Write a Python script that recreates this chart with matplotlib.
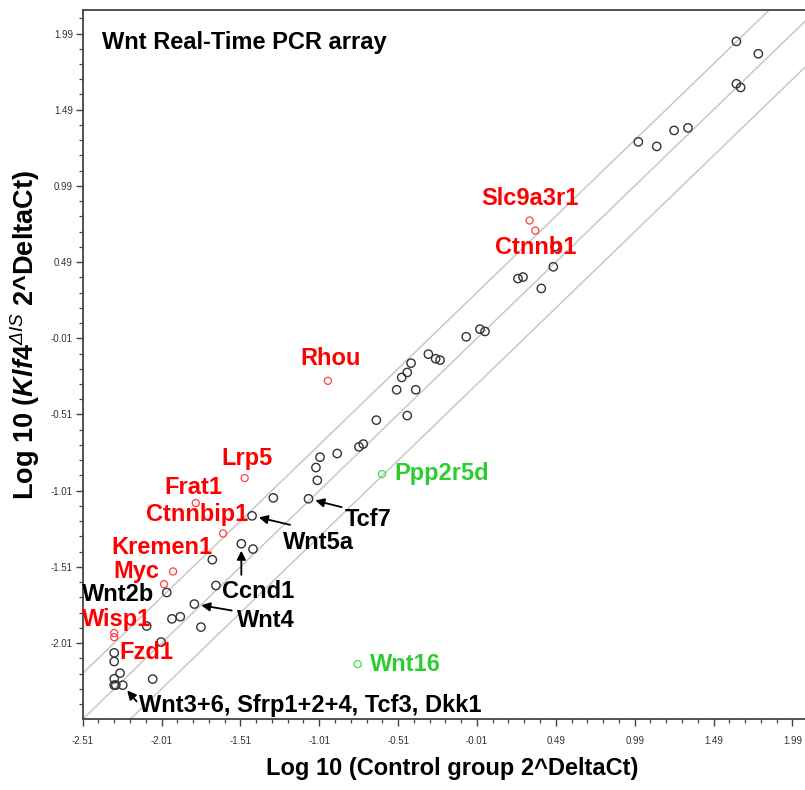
import numpy as np
import matplotlib
matplotlib.use('Agg')
import matplotlib.pyplot as plt
from matplotlib.ticker import FixedLocator

plt.rcParams['font.family'] = ['Liberation Sans', 'DejaVu Sans']
plt.rcParams['mathtext.fontset'] = 'custom'
plt.rcParams['mathtext.rm'] = 'Liberation Sans:bold'
plt.rcParams['mathtext.it'] = 'Liberation Sans:bold:italic'
plt.rcParams['mathtext.bf'] = 'Liberation Sans:bold'
plt.rcParams['mathtext.sf'] = 'Liberation Sans:italic'

# unlabelled / black genes (log10 control, log10 Klf4 mutant)
black_x = [1.635, 1.774, 1.635, 1.662, 1.013, 1.130, 1.240, 1.328,
           0.485, 0.474, 0.250, 0.282, 0.398, -0.078, 0.009, 0.041,
           -0.318, -0.272, -0.244, -0.428, -0.452, -0.487, -0.519, -0.398,
           -0.452, -0.648, -0.731, -0.758, -0.896, -1.005, -1.031, -1.022,
           -1.078, -1.301, -1.436, -1.504, -1.430, -1.688, -1.665, -1.977,
           -1.802, -1.944, -1.891, -1.760, -2.104, -2.013, -2.310, -2.310,
           -2.273, -2.310, -2.310, -2.300, -2.256, -2.066]
black_y = [1.938, 1.857, 1.660, 1.636, 1.279, 1.249, 1.354, 1.371,
           0.592, 0.459, 0.382, 0.392, 0.317, 0.000, 0.050, 0.035,
           -0.114, -0.144, -0.153, -0.173, -0.234, -0.267, -0.348, -0.348,
           -0.517, -0.547, -0.704, -0.722, -0.766, -0.790, -0.858, -0.942,
           -1.063, -1.057, -1.175, -1.358, -1.393, -1.463, -1.632, -1.678,
           -1.754, -1.851, -1.837, -1.905, -1.898, -2.003, -2.074, -2.131,
           -2.207, -2.244, -2.286, -2.286, -2.286, -2.246]

# up-regulated genes (red)
red_genes = ['Slc9a3r1', 'Ctnnb1', 'Rhou', 'Lrp5', 'Frat1', 'Ctnnbip1',
             'Kremen1', 'Myc', 'Wisp1', 'Fzd1']
red_x = [0.324, 0.360, -0.955, -1.483, -1.793, -1.620, -1.937, -1.994, -2.310, -2.310]
red_y = [0.763, 0.697, -0.289, -0.927, -1.091, -1.291, -1.540, -1.623, -1.944, -1.971]

# down-regulated genes (green)
green_genes = ['Ppp2r5d', 'Wnt16']
green_x = [-0.612, -0.766]
green_y = [-0.901, -2.148]

# black genes with a label: name, index into black arrays
black_labels = ['Tcf7', 'Wnt5a', 'Ccnd1', 'Wnt4', 'Wnt2b',
                'Wnt3+6, Sfrp1+2+4, Tcf3, Dkk1']
black_label_idx = [32, 34, 35, 40, 39, 52]

fold_lines = [np.log10(2), 0.0, -np.log10(2)]

# text positions (left, baseline) in data units
red_pos = [(0.020, 0.866), (0.104, 0.544), (-1.132, -0.184), (-1.630, -0.840),
           (-1.994, -1.030), (-2.109, -1.212), (-2.331, -1.424), (-2.316, -1.580),
           (-2.516, -1.898), (-2.280, -2.116)]
green_pos = [(-0.534, -0.943), (-0.688, -2.196)]
black_pos = [(-0.847, -1.244), (-1.242, -1.391), (-1.629, -1.711), (-1.530, -1.903),
             (-2.516, -1.732), (-2.151, -2.459)]
arrow_tail = [(-0.868, -1.118), (-1.195, -1.234), (-1.504, -1.562), (-1.565, -1.796),
              None, (-2.168, -2.393)]

red = '#ff0000'
green = '#2ecc2e'

fig = plt.figure(figsize=(8.05, 7.9), dpi=100)
ax = fig.add_axes([0.1027, 0.0895, 0.8973, 0.8978])

for c in fold_lines:
    ax.axline((0, c), slope=1, color='#c8c8c8', lw=1.1, zorder=1)

ax.scatter(black_x, black_y, s=36, facecolors='none', edgecolors='#333333',
           linewidths=1.0, zorder=3)
ax.scatter(red_x, red_y, s=26, facecolors='none', edgecolors='#ff4040',
           linewidths=0.9, zorder=3)
ax.scatter(green_x, green_y, s=26, facecolors='none', edgecolors='#44dd44',
           linewidths=0.9, zorder=3)

fs = 17
for name, (tx, ty) in zip(red_genes, red_pos):
    ax.text(tx, ty, name, color=red, fontsize=fs, fontweight='bold',
            ha='left', va='baseline', zorder=4)
for name, (tx, ty) in zip(green_genes, green_pos):
    ax.text(tx, ty, name, color=green, fontsize=fs, fontweight='bold',
            ha='left', va='baseline', zorder=4)
for name, i, (tx, ty), tail in zip(black_labels, black_label_idx, black_pos, arrow_tail):
    ax.text(tx, ty, name, color='black', fontsize=fs, fontweight='bold',
            ha='left', va='baseline', zorder=4)
    if tail is not None:
        ax.annotate('', xy=(black_x[i], black_y[i]), xytext=tail,
                    arrowprops=dict(arrowstyle='-|>', color='black', lw=1.3,
                                    mutation_scale=13, shrinkA=0, shrinkB=5),
                    zorder=4)

ax.text(-2.390, 1.888, 'Wnt Real-Time PCR array', fontsize=fs, fontweight='bold',
        ha='left', va='baseline')

ax.set_xlim(-2.51, 2.07)
ax.set_ylim(-2.51, 2.144)

ax.xaxis.set_major_locator(FixedLocator(np.round(np.arange(-2.51, 2.0, 0.5), 2)))
ax.xaxis.set_minor_locator(FixedLocator(np.round(np.arange(-2.51, 2.07, 0.1), 2)))
ax.yaxis.set_major_locator(FixedLocator(np.round(np.arange(-2.01, 2.0, 0.5), 2)))
ax.yaxis.set_minor_locator(FixedLocator(np.round(np.arange(-2.41, 2.14, 0.1), 2)))
ax.xaxis.set_major_formatter(lambda v, p: f'{v:.2f}')
ax.yaxis.set_major_formatter(lambda v, p: f'{v:.2f}')

ax.tick_params(which='major', length=5, width=1.0, color='#444444',
               labelsize=7, labelcolor='#333333')
ax.tick_params(which='minor', length=3, width=0.9, color='#444444')
ax.tick_params(axis='x', pad=7)
ax.tick_params(axis='y', pad=2)

ax.spines['right'].set_visible(False)
for s in ['left', 'bottom', 'top']:
    ax.spines[s].set_color('#444444')
    ax.spines[s].set_linewidth(1.3)

ax.set_xlabel('Log 10 (Control group 2^DeltaCt)', fontsize=fs, fontweight='bold')
ax.set_ylabel(r'Log 10 ($\mathit{Klf4}^{\mathsf{\Delta IS}}$ 2^DeltaCt)', fontsize=19.5,
              fontweight='bold')
ax.xaxis.set_label_coords(0.511, -0.053)
ax.yaxis.set_label_coords(-0.0565, 0.542)

fig.savefig('out.png', dpi=100)
